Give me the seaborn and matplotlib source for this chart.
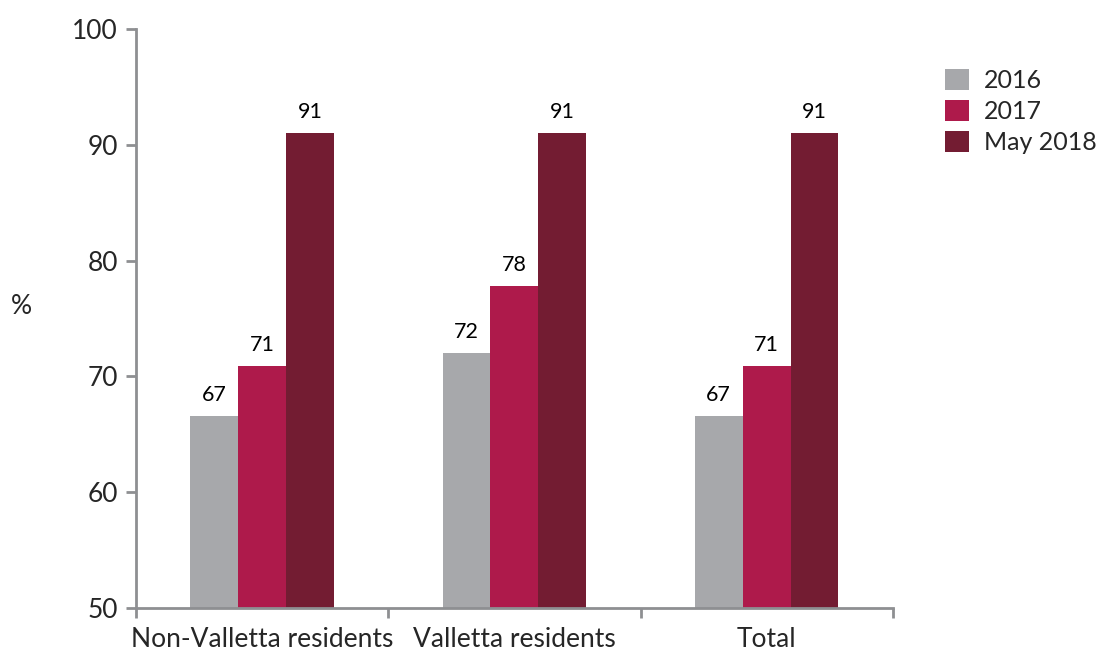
import pandas as pd
import seaborn as sns
import matplotlib.pyplot as plt

# Dados
categorias = ['Non-Valletta residents', 'Valletta residents', 'Total']
anos = ['2016', '2017', 'May 2018']
valores_2016 = [66.6, 72.0, 66.6]
valores_2017 = [70.9, 77.8, 70.9]
valores_2018 = [91.0, 91.0, 91.0]
rotulos_2016 = ['67', '72', '67']
rotulos_2017 = ['71', '78', '71']
rotulos_2018 = ['91', '91', '91']

df = pd.DataFrame({
    'categoria': categorias * 3,
    'ano': [anos[0]] * 3 + [anos[1]] * 3 + [anos[2]] * 3,
    'valor': valores_2016 + valores_2017 + valores_2018,
})
rotulos = [rotulos_2016, rotulos_2017, rotulos_2018]

sns.set_theme(style="white")
plt.rcParams['font.family'] = ['Lato', 'DejaVu Sans']

cores = ['#A7A8AB', '#AE1A4B', '#731C32']
cinza = '#8E8F92'

fig = plt.figure(figsize=(10.98, 6.52), dpi=100)
ax = fig.add_axes([0.124, 0.0675, 0.689, 0.888])
sns.barplot(data=df, x='categoria', y='valor', hue='ano', palette=cores,
            width=0.57, saturation=1, linewidth=0, ax=ax)

for cont, labs in zip(ax.containers, rotulos):
    ax.bar_label(cont, labels=labs, padding=8, fontsize=15.5, color='black')

ax.set_ylim(50, 100)
ax.set_xlim(-0.5, 2.5)
ax.set_yticks(range(50, 101, 10))
ax.set_xticks([-0.5, 0.5, 1.5, 2.5], minor=True)
ax.tick_params(axis='x', which='major', length=0, labelsize=19, pad=14)
ax.tick_params(axis='x', which='minor', length=7, width=2, color=cinza, direction='out', bottom=True)
ax.tick_params(axis='y', length=7, width=2, color=cinza, direction='out', labelsize=19, pad=6, left=True)
ax.set_xlabel('')
ax.set_ylabel('%', rotation=0, fontsize=19, va='center', ha='center')
ax.yaxis.set_label_coords(-0.152, 0.52)
sns.despine(ax=ax)
for s in ['left', 'bottom']:
    ax.spines[s].set_color(cinza)
    ax.spines[s].set_linewidth(2)

ax.legend(loc='upper left', bbox_to_anchor=(1.04, 0.97), frameon=False,
          fontsize=18, handlelength=0.95, handleheight=0.95, labelspacing=0.3,
          handletextpad=0.6)

plt.savefig('out.png', dpi=100)
